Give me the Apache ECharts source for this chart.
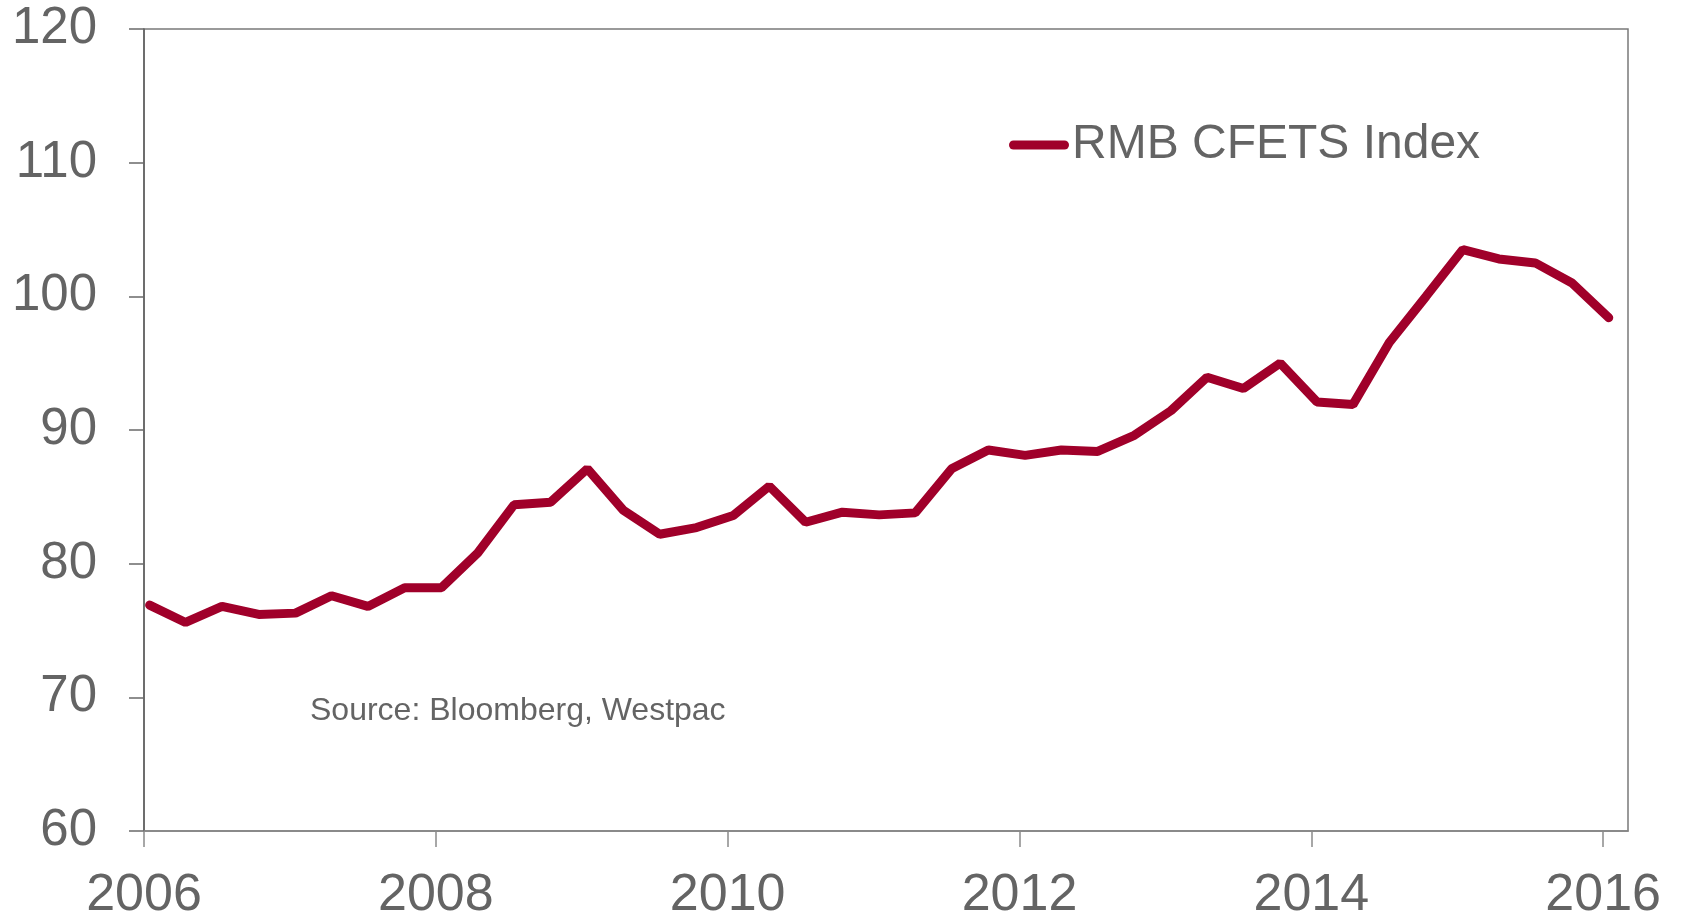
<!DOCTYPE html>
<html>
<head>
<meta charset="utf-8">
<title>RMB CFETS Index</title>
<script src="https://cdn.jsdelivr.net/npm/echarts@6/dist/echarts.min.js"></script>
<style>
  html, body { margin: 0; padding: 0; background: #ffffff; }
  #chart { width: 1683px; height: 917px; }
</style>
</head>
<body>
<div id="chart"></div>
<script>
// Quarterly observation dates
const dates = [
  '2006-01-15', '2006-04-15', '2006-07-15', '2006-10-15',
  '2007-01-15', '2007-04-15', '2007-07-15', '2007-10-15',
  '2008-01-15', '2008-04-15', '2008-07-15', '2008-10-15',
  '2009-01-15', '2009-04-15', '2009-07-15', '2009-10-15',
  '2010-01-15', '2010-04-15', '2010-07-15', '2010-10-15',
  '2011-01-15', '2011-04-15', '2011-07-15', '2011-10-15',
  '2012-01-15', '2012-04-15', '2012-07-15', '2012-10-15',
  '2013-01-15', '2013-04-15', '2013-07-15', '2013-10-15',
  '2014-01-15', '2014-04-15', '2014-07-15', '2014-10-15',
  '2015-01-15', '2015-04-15', '2015-07-15', '2015-10-15',
  '2016-01-15'
];

// RMB CFETS index level
const cfets = [
  76.9, 75.6, 76.8, 76.2,
  76.3, 77.6, 76.8, 78.2,
  78.2, 80.8, 84.4, 84.6,
  87.1, 84.0, 82.2, 82.7,
  83.6, 85.8, 83.1, 83.85,
  83.65, 83.8, 87.1, 88.5,
  88.1, 88.5, 88.4, 89.6,
  91.45, 93.95, 93.1, 95.0,
  92.1, 91.9, 96.55, 100.0,
  103.5, 102.8, 102.5, 101.0,
  98.4
];

// Year ticks on the horizontal axis
const yearTicks = [2006, 2008, 2010, 2012, 2014, 2016];

const seriesName = 'RMB CFETS Index';
const sourceNote = 'Source: Bloomberg, Westpac';

// Convert an ISO date into a fractional year
function toYearFraction(iso) {
  const d = new Date(iso + 'T00:00:00Z');
  const y = d.getUTCFullYear();
  const start = Date.UTC(y, 0, 1);
  const end = Date.UTC(y + 1, 0, 1);
  return y + (d.getTime() - start) / (end - start);
}

const points = dates.map((d, i) => [toYearFraction(d), cfets[i]]);

const textColor = '#646464';
const lineColor = '#A0002A';
const fontFamily = 'Liberation Sans, Arial, sans-serif';

const chart = echarts.init(document.getElementById('chart'), null, { renderer: 'canvas' });

chart.setOption({
  animation: false,
  backgroundColor: '#ffffff',
  grid: {
    left: 144,
    right: 55,
    top: 29,
    bottom: 86,
    containLabel: false,
    outerBoundsMode: 'none',
    show: true,
    borderColor: '#7a7a7a',
    borderWidth: 1.5,
    backgroundColor: 'transparent'
  },
  legend: {
    data: [seriesName],
    left: 1004,
    top: 116,
    itemWidth: 60,
    itemHeight: 9,
    itemGap: 10,
    icon: 'path://M4.5,0 H55.5 A4.5,4.5 0 0 1 55.5,9 H4.5 A4.5,4.5 0 0 1 4.5,0 Z',
    textStyle: {
      color: textColor,
      fontSize: 48,
      fontFamily: fontFamily,
      padding: [0, 0, 0, -2]
    }
  },
  xAxis: {
    type: 'value',
    min: 2006,
    max: 2016.17,
    interval: 2,
    splitLine: { show: false },
    axisLine: { show: true, lineStyle: { color: '#858585', width: 1.5 } },
    axisTick: {
      show: true,
      length: 16,
      inside: false,
      customValues: yearTicks,
      lineStyle: { color: '#8a8a8a', width: 1.5 }
    },
    axisLabel: {
      show: true,
      customValues: yearTicks,
      formatter: v => String(Math.round(v)),
      color: textColor,
      fontSize: 52,
      fontFamily: fontFamily,
      margin: 39
    }
  },
  yAxis: {
    type: 'value',
    min: 60,
    max: 120,
    interval: 10,
    splitLine: { show: false },
    axisLine: { show: true, lineStyle: { color: '#5e5e5e', width: 1.5 } },
    axisTick: {
      show: true,
      length: 15,
      inside: false,
      lineStyle: { color: '#6a6a6a', width: 1.5 }
    },
    axisLabel: {
      color: textColor,
      fontSize: 51,
      fontFamily: fontFamily,
      margin: 47,
      padding: [4, 0, 0, 0]
    }
  },
  graphic: [{
    type: 'text',
    left: 310,
    top: 695,
    style: {
      text: sourceNote,
      fill: textColor,
      font: '32px ' + fontFamily
    }
  }],
  series: [{
    name: seriesName,
    type: 'line',
    data: points,
    showSymbol: false,
    symbol: 'none',
    color: lineColor,
    lineStyle: { color: lineColor, width: 9, cap: 'round' }
  }]
});
</script>
</body>
</html>
